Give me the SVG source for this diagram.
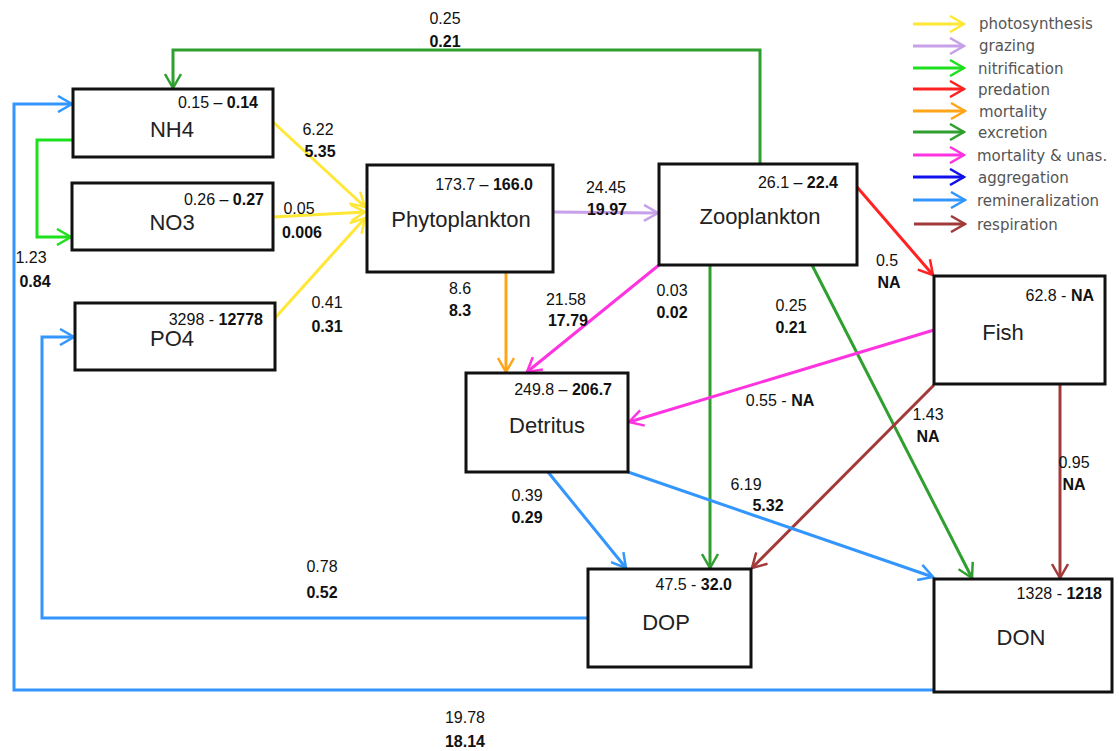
<svg xmlns="http://www.w3.org/2000/svg" width="1119" height="751" viewBox="0 0 1119 751">
  <style>
    .box { fill: #fff; stroke: #111; stroke-width: 3; }
    .name { font-family: "Liberation Sans", Arial, sans-serif; font-size: 22px; fill: #222; text-anchor: middle; }
    .val { font-family: "Liberation Sans", Arial, sans-serif; font-size: 16px; fill: #111; }
    .b { font-weight: bold; }
    .end { text-anchor: end; }
    .mid { text-anchor: middle; }
    .leg { font-family: "DejaVu Sans", Verdana, sans-serif; font-size: 15px; fill: #555; }
    .c { fill: none; stroke-width: 3; }
    .photo { stroke: #ffe835; }
    .graz { stroke: #c7a0ea; }
    .nitr { stroke: #1ee01e; }
    .pred { stroke: #ff2222; }
    .mort { stroke: #ffa51a; }
    .excr { stroke: #2fa02f; }
    .unas { stroke: #ff33e0; }
    .aggr { stroke: #1010ee; }
    .remi { stroke: #3396ff; }
    .resp { stroke: #a33a3a; }
  </style>
  <defs>
    <marker id="m-photo" viewBox="-15 -9 17 18" refX="0" refY="0" markerWidth="17" markerHeight="18" markerUnits="userSpaceOnUse" orient="auto"><path d="M-14,-8 L0,0 L-14,8" fill="none" stroke="#ffe835" stroke-width="2.5"/></marker>
    <marker id="m-graz" viewBox="-15 -9 17 18" refX="0" refY="0" markerWidth="17" markerHeight="18" markerUnits="userSpaceOnUse" orient="auto"><path d="M-14,-8 L0,0 L-14,8" fill="none" stroke="#c7a0ea" stroke-width="2.5"/></marker>
    <marker id="m-nitr" viewBox="-15 -9 17 18" refX="0" refY="0" markerWidth="17" markerHeight="18" markerUnits="userSpaceOnUse" orient="auto"><path d="M-14,-8 L0,0 L-14,8" fill="none" stroke="#1ee01e" stroke-width="2.5"/></marker>
    <marker id="m-pred" viewBox="-15 -9 17 18" refX="0" refY="0" markerWidth="17" markerHeight="18" markerUnits="userSpaceOnUse" orient="auto"><path d="M-14,-8 L0,0 L-14,8" fill="none" stroke="#ff2222" stroke-width="2.5"/></marker>
    <marker id="m-mort" viewBox="-15 -9 17 18" refX="0" refY="0" markerWidth="17" markerHeight="18" markerUnits="userSpaceOnUse" orient="auto"><path d="M-14,-8 L0,0 L-14,8" fill="none" stroke="#ffa51a" stroke-width="2.5"/></marker>
    <marker id="m-excr" viewBox="-15 -9 17 18" refX="0" refY="0" markerWidth="17" markerHeight="18" markerUnits="userSpaceOnUse" orient="auto"><path d="M-14,-8 L0,0 L-14,8" fill="none" stroke="#2fa02f" stroke-width="2.5"/></marker>
    <marker id="m-unas" viewBox="-15 -9 17 18" refX="0" refY="0" markerWidth="17" markerHeight="18" markerUnits="userSpaceOnUse" orient="auto"><path d="M-14,-8 L0,0 L-14,8" fill="none" stroke="#ff33e0" stroke-width="2.5"/></marker>
    <marker id="m-aggr" viewBox="-15 -9 17 18" refX="0" refY="0" markerWidth="17" markerHeight="18" markerUnits="userSpaceOnUse" orient="auto"><path d="M-14,-8 L0,0 L-14,8" fill="none" stroke="#1010ee" stroke-width="2.5"/></marker>
    <marker id="m-remi" viewBox="-15 -9 17 18" refX="0" refY="0" markerWidth="17" markerHeight="18" markerUnits="userSpaceOnUse" orient="auto"><path d="M-14,-8 L0,0 L-14,8" fill="none" stroke="#3396ff" stroke-width="2.5"/></marker>
    <marker id="m-resp" viewBox="-15 -9 17 18" refX="0" refY="0" markerWidth="17" markerHeight="18" markerUnits="userSpaceOnUse" orient="auto"><path d="M-14,-8 L0,0 L-14,8" fill="none" stroke="#a33a3a" stroke-width="2.5"/></marker>
  </defs>

  <rect width="1119" height="751" fill="#fff"/>

  <!-- flux connectors -->
  <g id="connectors">
    <path class="c excr" d="M760,164 V50 H173 V88" marker-end="url(#m-excr)"/>
    <path class="c remi" d="M934,690 H14 V104 H72" marker-end="url(#m-remi)"/>
    <path class="c nitr" d="M73,140 H37 V237 H71" marker-end="url(#m-nitr)"/>
    <path class="c remi" d="M588,618 H42 V337 H74" marker-end="url(#m-remi)"/>
    <path class="c photo" d="M273,122 L365,207" marker-end="url(#m-photo)"/>
    <path class="c photo" d="M273,217 L365,212" marker-end="url(#m-photo)"/>
    <path class="c photo" stroke-width="2" d="M275,318 L365,218" marker-end="url(#m-photo)"/>
    <path class="c graz" d="M553,212 L658,213" marker-end="url(#m-graz)"/>
    <path class="c mort" d="M506,272 V372" marker-end="url(#m-mort)"/>
    <path class="c unas" d="M659,265 L527,372" marker-end="url(#m-unas)"/>
    <path class="c excr" d="M710,265 V568" marker-end="url(#m-excr)"/>
    <path class="c excr" d="M812,265 L972,578" marker-end="url(#m-excr)"/>
    <path class="c pred" d="M857,187 L933,275" marker-end="url(#m-pred)"/>
    <path class="c unas" d="M934,330 L629,422" marker-end="url(#m-unas)"/>
    <path class="c resp" d="M934,385 L752,568" marker-end="url(#m-resp)"/>
    <path class="c resp" d="M1060,384 V578" marker-end="url(#m-resp)"/>
    <path class="c remi" d="M548,472 L626,568" marker-end="url(#m-remi)"/>
    <path class="c remi" d="M628,472 L933,577" marker-end="url(#m-remi)"/>
  </g>

  <!-- flux values: first line regular, second line bold -->
  <g id="flux-labels">
    <text class="val mid" x="445" y="24">0.25</text>
    <text class="val mid b" x="445" y="47">0.21</text>
    <text class="val mid" x="465" y="723">19.78</text>
    <text class="val mid b" x="465" y="747">18.14</text>
    <text class="val mid" x="31" y="263">1.23</text>
    <text class="val mid b" x="35" y="287">0.84</text>
    <text class="val mid" x="322" y="572">0.78</text>
    <text class="val mid b" x="322" y="598">0.52</text>
    <text class="val mid" x="318" y="135">6.22</text>
    <text class="val mid b" x="320" y="157">5.35</text>
    <text class="val mid" x="299" y="214">0.05</text>
    <text class="val mid b" x="302" y="238">0.006</text>
    <text class="val mid" x="327" y="308">0.41</text>
    <text class="val mid b" x="327" y="332">0.31</text>
    <text class="val mid" x="606" y="193">24.45</text>
    <text class="val mid b" x="607" y="215">19.97</text>
    <text class="val mid" x="460" y="294">8.6</text>
    <text class="val mid b" x="460" y="316">8.3</text>
    <text class="val mid" x="566" y="305">21.58</text>
    <text class="val mid b" x="568" y="326">17.79</text>
    <text class="val mid" x="672" y="296">0.03</text>
    <text class="val mid b" x="672" y="318">0.02</text>
    <text class="val mid" x="791" y="311">0.25</text>
    <text class="val mid b" x="791" y="333">0.21</text>
    <text class="val mid" x="887" y="266">0.5</text>
    <text class="val mid b" x="889" y="288">NA</text>
    <text class="val mid" x="780" y="406">0.55 - <tspan class="b">NA</tspan></text>
    <text class="val mid" x="928" y="420">1.43</text>
    <text class="val mid b" x="928" y="442">NA</text>
    <text class="val mid" x="1074" y="468">0.95</text>
    <text class="val mid b" x="1074" y="490">NA</text>
    <text class="val mid" x="527" y="501">0.39</text>
    <text class="val mid b" x="527" y="523">0.29</text>
    <text class="val mid" x="746" y="490">6.19</text>
    <text class="val mid b" x="768" y="511">5.32</text>
  </g>

  <!-- compartments -->
  <g id="node-nh4">
    <rect class="box" x="73" y="89" width="200" height="68"/>
    <text class="val end" x="258" y="108">0.15 – <tspan class="b">0.14</tspan></text>
    <text class="name" x="172" y="137">NH4</text>
  </g>
  <g id="node-no3">
    <rect class="box" x="72" y="183" width="201" height="67"/>
    <text class="val end" x="264" y="205">0.26 – <tspan class="b">0.27</tspan></text>
    <text class="name" x="172" y="230">NO3</text>
  </g>
  <g id="node-po4">
    <rect class="box" x="75" y="303" width="200" height="67"/>
    <text class="val end" x="263" y="325">3298 - <tspan class="b">12778</tspan></text>
    <text class="name" x="172" y="346">PO4</text>
  </g>
  <g id="node-phytoplankton">
    <rect class="box" x="367" y="165" width="186" height="107"/>
    <text class="val end" x="533" y="190">173.7 – <tspan class="b">166.0</tspan></text>
    <text class="name" x="461" y="227">Phytoplankton</text>
  </g>
  <g id="node-zooplankton">
    <rect class="box" x="659" y="164" width="198" height="101"/>
    <text class="val end" x="838" y="188">26.1 – <tspan class="b">22.4</tspan></text>
    <text class="name" x="760" y="224">Zooplankton</text>
  </g>
  <g id="node-fish">
    <rect class="box" x="934" y="276" width="171" height="108"/>
    <text class="val end" x="1094" y="301">62.8 - <tspan class="b">NA</tspan></text>
    <text class="name" x="1003" y="340">Fish</text>
  </g>
  <g id="node-detritus">
    <rect class="box" x="466" y="373" width="162" height="99"/>
    <text class="val end" x="612" y="395">249.8 – <tspan class="b">206.7</tspan></text>
    <text class="name" x="547" y="433">Detritus</text>
  </g>
  <g id="node-dop">
    <rect class="box" x="588" y="569" width="163" height="98"/>
    <text class="val end" x="732" y="590">47.5 - <tspan class="b">32.0</tspan></text>
    <text class="name" x="666" y="630">DOP</text>
  </g>
  <g id="node-don">
    <rect class="box" x="934" y="579" width="178" height="113"/>
    <text class="val end" x="1102" y="599">1328 - <tspan class="b">1218</tspan></text>
    <text class="name" x="1021" y="645">DON</text>
  </g>

  <!-- legend -->
  <g id="legend">
    <path class="c photo" d="M913,24 H964" marker-end="url(#m-photo)"/>
    <path class="c graz" d="M913,46 H964" marker-end="url(#m-graz)"/>
    <path class="c nitr" d="M913,68 H964" marker-end="url(#m-nitr)"/>
    <path class="c pred" d="M913,89 H964" marker-end="url(#m-pred)"/>
    <path class="c mort" d="M913,111 H965" marker-end="url(#m-mort)"/>
    <path class="c excr" d="M913,132 H964" marker-end="url(#m-excr)"/>
    <path class="c unas" d="M913,155 H964" marker-end="url(#m-unas)"/>
    <path class="c aggr" d="M913,177 H964" marker-end="url(#m-aggr)"/>
    <path class="c remi" d="M913,200 H965" marker-end="url(#m-remi)"/>
    <path class="c resp" d="M914,224 H965" marker-end="url(#m-resp)"/>
    <text class="leg" x="979" y="29">photosynthesis</text>
    <text class="leg" x="979" y="51">grazing</text>
    <text class="leg" x="978" y="74">nitrification</text>
    <text class="leg" x="978" y="95">predation</text>
    <text class="leg" x="979" y="117">mortality</text>
    <text class="leg" x="978" y="138">excretion</text>
    <text class="leg" x="977" y="161">mortality &amp; unas.</text>
    <text class="leg" x="978" y="183">aggregation</text>
    <text class="leg" x="977" y="206">remineralization</text>
    <text class="leg" x="977" y="230">respiration</text>
  </g>
</svg>
